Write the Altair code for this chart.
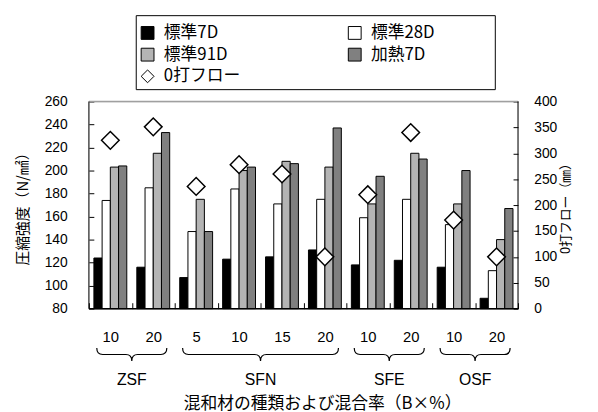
import altair as alt
import pandas as pd

# ---------------- data ----------------
groups = ["ZSF", "ZSF", "SFN", "SFN", "SFN", "SFN", "SFE", "SFE", "OSF", "OSF"]
rates = ["10", "20", "5", "10", "15", "20", "10", "20", "10", "20"]
series = ["標準7D", "標準28D", "標準91D", "加熱7D"]
flow_name = "0打フロー"

std7 = [124, 116, 107, 123, 125, 131, 118, 122, 116, 89]
std28 = [174, 185, 147, 184, 171, 175, 159, 175, 153, 113]
std91 = [203, 215, 175, 200, 208, 203, 171, 215, 171, 140]
heat7 = [204, 233, 147, 203, 206, 237, 195, 210, 200, 167]
flow = [325, 351, 236, 278, 260, 100, 220, 340, 171, 100]

x_title = "混和材の種類および混合率（B×%）"

# ---------------- tables ----------------
cats = [f"{g}|{r}" for g, r in zip(groups, rates)]
rows = []
for name, vals in zip(series, [std7, std28, std91, heat7]):
    for c, v in zip(cats, vals):
        rows.append({"cat": c, "series": name, "value": v})
bars_df = pd.DataFrame(rows)
flow_df = pd.DataFrame({"cat": cats, "series": flow_name, "flow": flow})

group_names = []
group_counts = []
group_starts = []
for i, g in enumerate(groups):
    if not group_names or group_names[-1] != g:
        group_names.append(g)
        group_counts.append(0)
        group_starts.append(i)
    group_counts[-1] += 1
group_centers = [cats[s + n // 2] for s, n in zip(group_starts, group_counts)]
gdf = pd.DataFrame({"cat": group_centers, "gname": group_names})

# ---------------- layout ----------------
W, H = 435, 210
step = W / len(cats)
JP = "Noto Sans CJK JP"
NUM = "Liberation Sans"

legend_domain = series + [flow_name]
fill_scale = alt.Scale(domain=legend_domain,
                       range=["#000000", "#ffffff", "#b4b4b4", "#808080", "#ffffff"])
shape_scale = alt.Scale(domain=legend_domain,
                        range=["square", "square", "square", "square", "diamond"])

legend = alt.Legend(title=None, orient="none", direction="horizontal",
                    legendX=51, legendY=-78, columns=2,
                    columnPadding=107, rowPadding=4, symbolSize=169,
                    symbolStrokeColor="black", symbolStrokeWidth=1,
                    labelFont=JP, labelFontSize=17, labelColor="black",
                    labelOffset=8, padding=0)

x_axis = alt.Axis(title=None, orient="bottom", offset=-6,
                  tickSize=6, tickBand="extent", domain=False, grid=False,
                  labelExpr="split(datum.label, '|')[1]", labelAngle=0,
                  labelFont=NUM, labelFontSize=15, labelPadding=21,
                  labelColor="black", tickColor="black")
x_scale = alt.Scale(domain=cats, paddingInner=0, paddingOuter=0)


def xenc(band=None):
    if band is None:
        return alt.X("cat:N", sort=cats, scale=x_scale, axis=x_axis)
    return alt.X("cat:N", sort=cats, scale=x_scale, axis=x_axis, bandPosition=band)


bar_layer = alt.Chart(bars_df).mark_bar(stroke="black", strokeWidth=1).encode(
    x=xenc(),
    xOffset=alt.XOffset("series:N", sort=series,
                        scale=alt.Scale(domain=series, paddingOuter=0.61, paddingInner=0)),
    y=alt.Y("value:Q", scale=alt.Scale(domain=[80, 260], zero=False, nice=False),
            axis=alt.Axis(title="圧縮強度（N/㎟）", orient="left",
                          values=list(range(80, 261, 20)), offset=-5, tickSize=5,
                          domain=False, grid=False, labelFont=NUM, labelFontSize=14,
                          labelColor="black", tickColor="black", labelPadding=22,
                          titleFont=JP, titleFontSize=15, titleFontWeight="normal",
                          titleColor="black", titlePadding=14)),
    y2=alt.datum(80),
    fill=alt.Fill("series:N", scale=fill_scale, legend=legend),
)

pt_layer = alt.Chart(flow_df).mark_point(filled=True, size=320, stroke="black",
                                         strokeWidth=1.5, opacity=1).encode(
    x=xenc(),
    y=alt.Y("flow:Q", scale=alt.Scale(domain=[0, 400], nice=False),
            axis=alt.Axis(title="0打フロー（㎜）", orient="right", titleAngle=270,
                          values=list(range(0, 401, 50)), offset=-5, tickSize=5,
                          domain=False, grid=False, labelFont=NUM, labelFontSize=14,
                          labelColor="black", tickColor="black", labelPadding=16,
                          titleFont=JP, titleFontSize=13, titleFontWeight="normal",
                          titleColor="black", titlePadding=16)),
    fill=alt.Fill("series:N", scale=fill_scale, legend=legend),
    shape=alt.Shape("series:N", scale=shape_scale, legend=legend),
)

one = alt.Data(values=[{"k": 1}])
frame = [
    alt.Chart(one).mark_rule(color="#a0a0a0", strokeWidth=1.5).encode(
        x=alt.value(0), x2=alt.value(W), y=alt.value(0)),
    alt.Chart(one).mark_rule(color="black", strokeWidth=1).encode(
        x=alt.value(0), y=alt.value(0), y2=alt.value(H)),
    alt.Chart(one).mark_rule(color="black", strokeWidth=1).encode(
        x=alt.value(W), y=alt.value(0), y2=alt.value(H)),
    alt.Chart(one).mark_rule(color="black", strokeWidth=1.5).encode(
        x=alt.value(0), x2=alt.value(W), y=alt.value(H)),
    alt.Chart(one).mark_rect(fillOpacity=0, stroke="black", strokeWidth=1).encode(
        x=alt.value(48), x2=alt.value(412), y=alt.value(-87), y2=alt.value(-12)),
]


def brace_path(wpx, hpx, r):
    s = wpx / 2.0
    hw = wpx / 2.0
    hm = hpx / 2.0

    def p(x, y):
        return f"{x / s:.4f} {y / s:.4f}"

    return (f"M {p(-hw, 0)} Q {p(-hw, hm)} {p(-hw + r, hm)} L {p(-r, hm)} "
            f"Q {p(0, hm)} {p(0, hpx)} M {p(0, hpx)} Q {p(0, hm)} {p(r, hm)} "
            f"L {p(hw - r, hm)} Q {p(hw, hm)} {p(hw, 0)}")


braces = []
for c, n in zip(group_centers, group_counts):
    wpx = n * step - 16
    braces.append(
        alt.Chart(alt.Data(values=[{"cat": c}])).mark_point(
            shape=brace_path(wpx, 13, 6), size=wpx * wpx, filled=False,
            stroke="black", strokeWidth=1.2, opacity=1).encode(
            x=xenc(0), y=alt.value(H + 40)))

glabels = alt.Chart(gdf).mark_text(font=NUM, fontSize=16, color="black",
                                   baseline="middle", align="center").encode(
    x=xenc(0), y=alt.value(H + 72), text="gname:N")

xtitle = alt.Chart(one).mark_text(text=x_title, font=JP, fontSize=17, color="black",
                                  baseline="middle", align="center").encode(
    x=alt.value(237), y=alt.value(H + 97))

chart = alt.layer(bar_layer, pt_layer, *frame, *braces, glabels, xtitle).resolve_scale(
    y="independent"
).properties(
    width=W, height=H,
    padding={"left": 82, "top": 92, "right": 73, "bottom": 102},
    autosize=alt.AutoSizeParams(type="none"),
).configure_view(stroke=None).configure(background="white")

chart.save("out.html", embed_options={"renderer": "svg", "actions": False})
